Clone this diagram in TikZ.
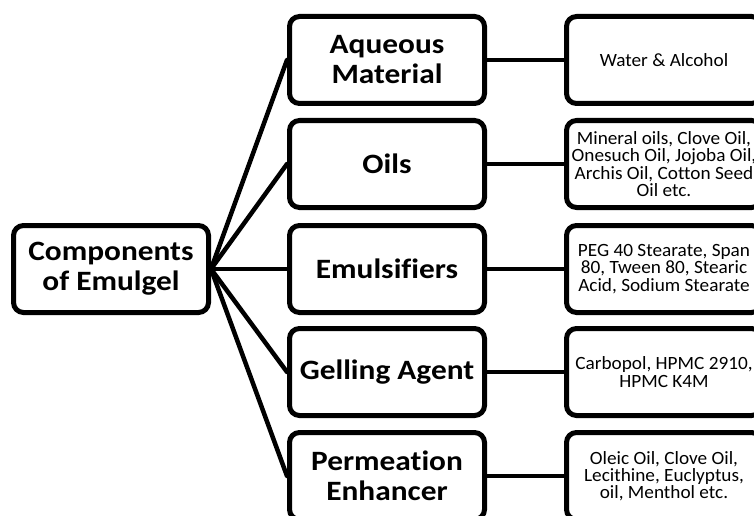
\documentclass[tikz,border=0pt]{standalone}
\usepackage{fontspec}
\setmainfont[Ligatures=NoCommon]{Carlito}
\newfontfamily\headfont[FakeStretch=1.12,Ligatures=NoCommon]{Carlito}
\newfontfamily\leaffont[FakeStretch=1.03,Ligatures=NoCommon]{Carlito}
\begin{document}
\begin{tikzpicture}[x=1pt,y=-1pt,
  box/.style={draw=black,line width=5pt,rounded corners=10pt,fill=white,
    minimum width=195pt,minimum height=87pt,inner sep=2pt,align=center},
  rootbox/.style={box,font=\headfont\bfseries\fontsize{28}{30}\selectfont},
  midbox/.style={box,font=\headfont\bfseries\fontsize{28}{30}\selectfont},
  leafbox/.style={box,font=\leaffont\fontsize{18.7}{17.2}\selectfont},
  link/.style={line width=4.5pt,line cap=round}]
\useasboundingbox (0,0) rectangle (754,516);
\clip (0,0) rectangle (754,516);
\node[rootbox] (root) at (111,269) {Components\\of Emulgel};
\node[midbox] (m1) at (387,60) {Aqueous\\Material};
\node[midbox] (m2) at (387,164) {Oils};
\node[midbox] (m3) at (387,269) {Emulsifiers};
\node[midbox] (m4) at (387,372) {Gelling Agent};
\node[midbox] (m5) at (387,476) {Permeation\\Enhancer};
\node[leafbox] (l1) at (664,60) {Water \& Alcohol};
\node[leafbox] (l2) at (664,164) {Mineral oils, Clove Oil,\\Onesuch Oil, Jojoba Oil,\\Archis Oil, Cotton Seed\\Oil etc.};
\node[leafbox] (l3) at (664,269) {PEG 40 Stearate, Span\\80, Tween 80, Stearic\\Acid, Sodium Stearate};
\node[leafbox] (l4) at (664,372) {Carbopol, HPMC 2910,\\HPMC K4M};
\node[leafbox] (l5) at (664,476) {Oleic Oil, Clove Oil,\\Lecithine, Euclyptus,\\oil, Menthol etc.};
\foreach \i in {1,...,5}{
  \draw[link] (root.east) -- (m\i.west);
  \draw[link] (m\i.east) -- (l\i.west);
}
\end{tikzpicture}
\end{document}
